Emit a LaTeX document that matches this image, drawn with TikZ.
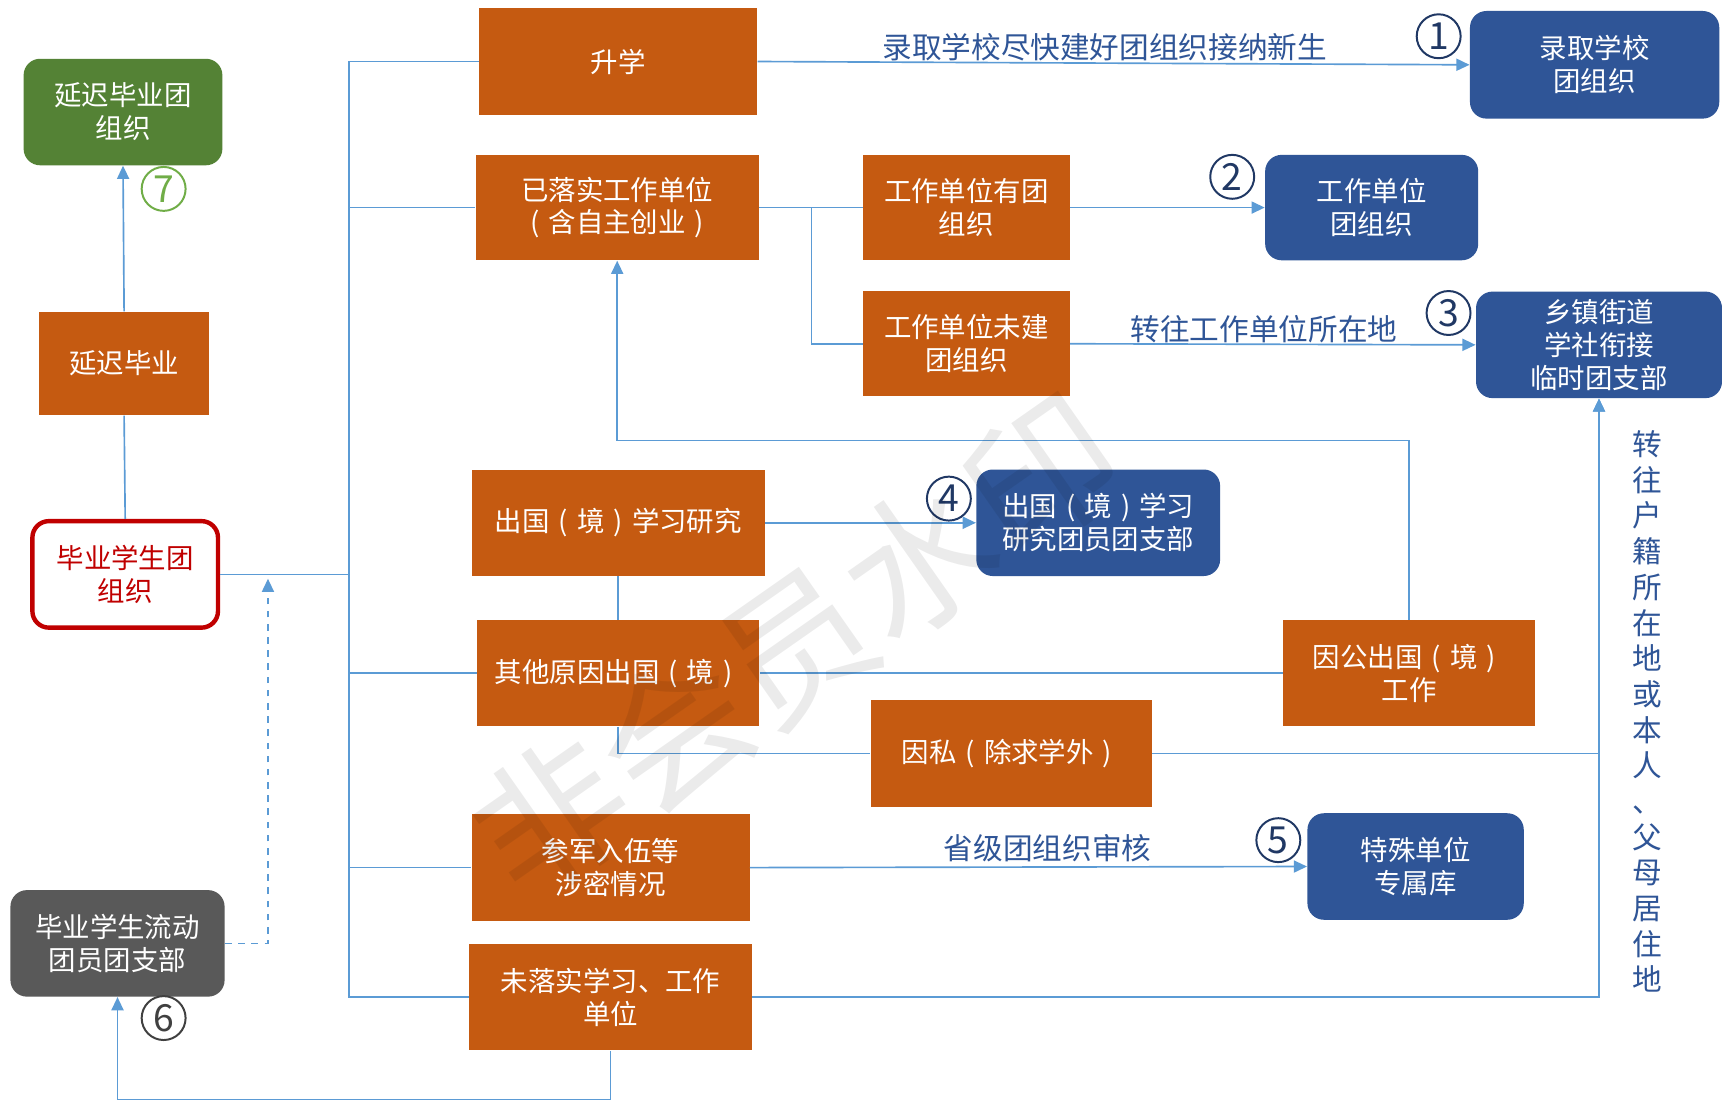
\documentclass[tikz,border=0pt]{standalone}
\usepackage{fontspec}
\setmainfont{Noto Sans CJK SC}
\usetikzlibrary{arrows.meta}
\definecolor{orangebox}{HTML}{C55A11}
\definecolor{bluebox}{HTML}{2F5597}
\definecolor{greenbox}{HTML}{548235}
\definecolor{graybox}{HTML}{595959}
\definecolor{redline}{HTML}{C00000}
\definecolor{connblue}{HTML}{5B9BD5}
\definecolor{labelblue}{HTML}{2F5597}
\definecolor{numblue}{HTML}{203864}
\definecolor{numgray}{HTML}{404040}
\definecolor{numgreen}{HTML}{70AD47}
\newcommand\zlp{\makebox[1em]{(}}
\newcommand\zrp{\makebox[1em]{)}}
\tikzset{
  boxtext/.style={font=\fontsize{12.5}{15}\selectfont, align=center, inner sep=0pt},
  obox/.style={boxtext, fill=orangebox, text=white},
  bbox/.style={boxtext, fill=bluebox, text=white, rounded corners=7.5pt},
  gbox/.style={boxtext, fill=greenbox, text=white, rounded corners=7.5pt},
  dbox/.style={boxtext, fill=graybox, text=white, rounded corners=7.5pt},
  rbox/.style={boxtext, fill=white, draw=redline, line width=2pt, text=redline, rounded corners=7.5pt},
  conn/.style={draw=connblue, line width=0.75pt},
  arr/.style={conn, -{Triangle[length=6pt,width=5.5pt]}},
  lbl/.style={font=\fontsize{13.5}{16}\selectfont, text=labelblue, inner sep=0pt},
  cnum/.style={circle, draw=numblue, line width=0.9pt, text=numblue, minimum size=20pt, inner sep=0pt, font=\fontsize{17}{17}\selectfont},
}
\begin{document}
\begin{tikzpicture}[x=0.5pt,y=-0.5pt]
\fill[white] (0,0) rectangle (1568,1003);
\useasboundingbox (0,0) rectangle (1568,1003);

% left column
\node[gbox, minimum width=90.5pt, minimum height=48.5pt] (gr) at (112,102) {延迟毕业团\\组织};
\node[obox, minimum width=77.5pt, minimum height=47pt] (yc) at (113,331) {延迟毕业};
\node[rbox, minimum width=84.5pt, minimum height=48.5pt] (grad) at (114,523) {毕业学生团\\组织};
\node[dbox, minimum width=97.5pt, minimum height=48.5pt] (ld) at (107,859) {毕业学生流动\\团员团支部};

% orange middle boxes
\node[obox, minimum width=126.5pt, minimum height=48.5pt] (sx) at (563,56) {升学};
\node[obox, minimum width=129pt, minimum height=48pt] (yl) at (562,189) {已落实工作单位\\\zlp 含自主创业\zrp};
\node[obox, minimum width=94pt, minimum height=48pt] (yh) at (880,189) {工作单位有团\\组织};
\node[obox, minimum width=94pt, minimum height=48pt] (wj) at (880,313) {工作单位未建\\团组织};
\node[obox, minimum width=133.5pt, minimum height=48.5pt] (cg) at (563,476) {出国\zlp 境\zrp 学习研究};
\node[obox, minimum width=128.5pt, minimum height=48.5pt] (qt) at (563,613) {其他原因出国\zlp 境\zrp};
\node[obox, minimum width=128pt, minimum height=48.5pt] (ys) at (921,686) {因私\zlp 除求学外\zrp};
\node[obox, minimum width=114.5pt, minimum height=48.5pt] (yg) at (1283,613) {因公出国\zlp 境\zrp\\工作};
\node[obox, minimum width=126.5pt, minimum height=48.5pt] (cj) at (556,790) {参军入伍等\\涉密情况};
\node[obox, minimum width=128.5pt, minimum height=48.5pt] (wl) at (556,908) {未落实学习、工作\\单位};

% blue target boxes
\node[bbox, minimum width=113.5pt, minimum height=49pt] (lq) at (1452,59) {录取学校\\团组织};
\node[bbox, minimum width=97pt, minimum height=48pt] (gz) at (1249,189) {工作单位\\团组织};
\node[bbox, minimum width=112pt, minimum height=48.5pt] (xz) at (1456,314) {乡镇街道\\学社衔接\\临时团支部};
\node[bbox, minimum width=111pt, minimum height=48.5pt] (cz) at (1000,476) {出国\zlp 境\zrp 学习\\研究团员团支部};
\node[bbox, minimum width=98.5pt, minimum height=48.5pt] (ts) at (1289,789) {特殊单位\\专属库};

% circled numbers
\node[cnum] (n1) at (1310,33) {1};
\node[cnum] (n2) at (1122,161) {2};
\node[cnum] (n3) at (1319,285) {3};
\node[cnum] (n4) at (864,454) {4};
\node[cnum] (n5) at (1164,765) {5};
\node[cnum, draw=numgray, text=numgray] (n6) at (149,927) {6};
\node[cnum, draw=numgreen, text=numgreen] (n7) at (149,172) {7};

% labels
\node[lbl] (l1) at (1006,43) {录取学校尽快建好团组织接纳新生};
\node[lbl] (l3) at (1151,300) {转往工作单位所在地};
\node[lbl] (l5) at (954,772) {省级团组织审核};
\node[lbl, align=center, font=\fontsize{13.5}{16.25}\selectfont] (lv) at (1500,648) {转\\往\\户\\籍\\所\\在\\地\\或\\本\\人\\、\\父\\母\\居\\住\\地};

% helper coordinates
\coordinate (tA) at (318,523);
\coordinate (s1) at (739,189);
\coordinate (r1) at (0,401);
\coordinate (b1) at (0,1001);
\coordinate (dd) at (244,527);

% connectors
\draw[conn] (grad.east) -- (tA);
\draw[conn] (tA) |- (sx.west);
\draw[conn] (tA) |- (yl.west);
\draw[conn] (tA) |- (qt.west);
\draw[conn] (tA) |- (cj.west);
\draw[conn] (tA) |- (wl.west);

\draw[conn] (grad.north) -- (yc.south);
\draw[arr] (yc.north) -- (gr.south);

\draw[arr] (sx.east) -- (lq.west);
\draw[conn] (yl.east) -- (yh.west);
\draw[conn] (s1) |- (wj.west);
\draw[arr] (yh.east) -- (gz.west);
\draw[arr] (wj.east) -- (xz.west);

\draw[arr] (cg.east) -- (cz.west);
\draw[conn] (qt.north) -- (cg.south);
\draw[conn] (qt.east) -- (yg.west);
\draw[conn] (qt.south) |- (ys.west);
\draw[arr] (yg.north) -- (yg.north |- r1) -| (yl.south);
\draw[arr] (ys.east) -| (xz.south);
\draw[arr] (wl.east) -| (xz.south);
\draw[arr] (cj.east) -- (ts.west);

\draw[arr] (wl.south) -- (wl.south |- b1) -| (ld.south);
\draw[arr, dashed] (ld.east) -| (dd);

% watermark
\node[rotate=35, text=black, opacity=0.08, font=\fontsize{68}{68}\selectfont, inner sep=0pt] (wm) at (725,588) {非会员水印};
\end{tikzpicture}
\end{document}
